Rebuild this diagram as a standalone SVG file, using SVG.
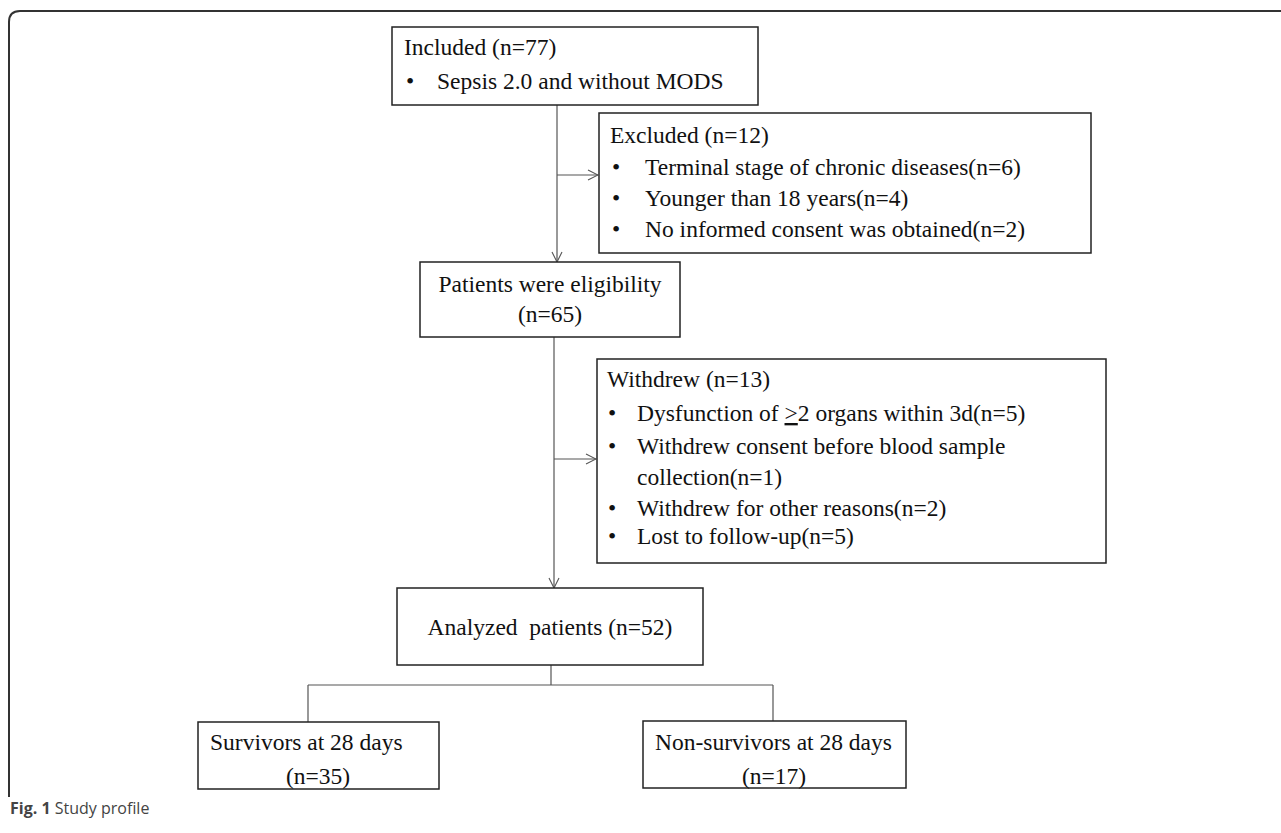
<svg xmlns="http://www.w3.org/2000/svg" width="1281" height="833" viewBox="0 0 1281 833">
<style>
.box{fill:#fff;stroke:#222;stroke-width:1.5}
.t{font-family:"Liberation Serif","Times New Roman",serif;font-size:23.5px;fill:#111}
.c{text-anchor:middle}
.ln{fill:none;stroke:#555;stroke-width:1.2}
.frame{fill:none;stroke:#333;stroke-width:2}
.cap{font-family:"Open Sans","Noto Sans",sans-serif;font-size:16px;fill:#444}
</style>
<defs>
<marker id="arr" viewBox="0 0 12 12" refX="11" refY="6" markerWidth="12" markerHeight="12" markerUnits="userSpaceOnUse" orient="auto">
<path d="M1,1 L11,6 L1,11" fill="none" stroke="#555" stroke-width="1.1"/>
</marker>
</defs>
<path class="frame" d="M1290,11 L20,11 Q9,11 9,22 L9,797"/>
<g id="connectors">
<line class="ln" x1="557" y1="105" x2="557" y2="262" marker-end="url(#arr)"/>
<line class="ln" x1="557" y1="175" x2="598" y2="175" marker-end="url(#arr)"/>
<line class="ln" x1="554" y1="337" x2="554" y2="588" marker-end="url(#arr)"/>
<line class="ln" x1="554" y1="459" x2="596" y2="459" marker-end="url(#arr)"/>
<path class="ln" d="M551,665 L551,685 M308,685 L773,685 M308,685 L308,722 M773,685 L773,721"/>
</g>
<g id="included">
<rect class="box" x="392" y="27" width="366" height="78"/>
<text class="t" x="404" y="55">Included (n=77)</text>
<text class="t" x="406" y="89">•</text>
<text class="t" x="437" y="89">Sepsis 2.0 and without MODS</text>
</g>
<g id="excluded">
<rect class="box" x="599" y="113" width="492" height="140"/>
<text class="t" x="610" y="143">Excluded (n=12)</text>
<text class="t" x="612" y="175">•</text>
<text class="t" x="645" y="175">Terminal stage of chronic diseases(n=6)</text>
<text class="t" x="612" y="206">•</text>
<text class="t" x="645" y="206">Younger than 18 years(n=4)</text>
<text class="t" x="612" y="237">•</text>
<text class="t" x="645" y="237">No informed consent was obtained(n=2)</text>
</g>
<g id="eligible">
<rect class="box" x="420" y="262" width="260" height="75"/>
<text class="t c" x="550" y="292">Patients were eligibility</text>
<text class="t c" x="550" y="322">(n=65)</text>
</g>
<g id="withdrew">
<rect class="box" x="597" y="359" width="509" height="204"/>
<text class="t" x="607" y="387">Withdrew (n=13)</text>
<text class="t" x="608" y="421">•</text>
<text class="t" x="637" y="421">Dysfunction of <tspan text-decoration="underline">&gt;</tspan>2 organs within 3d(n=5)</text>
<text class="t" x="608" y="454">•</text>
<text class="t" x="637" y="454">Withdrew consent before blood sample</text>
<text class="t" x="637" y="485">collection(n=1)</text>
<text class="t" x="608" y="516">•</text>
<text class="t" x="637" y="516">Withdrew for other reasons(n=2)</text>
<text class="t" x="608" y="544">•</text>
<text class="t" x="637" y="544">Lost to follow-up(n=5)</text>
</g>
<g id="analyzed">
<rect class="box" x="397" y="588" width="306" height="77"/>
<text class="t c" x="550" y="635" xml:space="preserve">Analyzed  patients (n=52)</text>
</g>
<g id="survivors">
<rect class="box" x="198" y="722" width="241" height="67"/>
<text class="t" x="210" y="750">Survivors at 28 days</text>
<text class="t c" x="318" y="784">(n=35)</text>
</g>
<g id="nonsurvivors">
<rect class="box" x="643" y="721" width="263" height="67"/>
<text class="t" x="655" y="750">Non-survivors at 28 days</text>
<text class="t c" x="774" y="784">(n=17)</text>
</g>
<text class="cap" x="10" y="814"><tspan font-weight="bold">Fig. 1</tspan> Study profile</text>
</svg>
